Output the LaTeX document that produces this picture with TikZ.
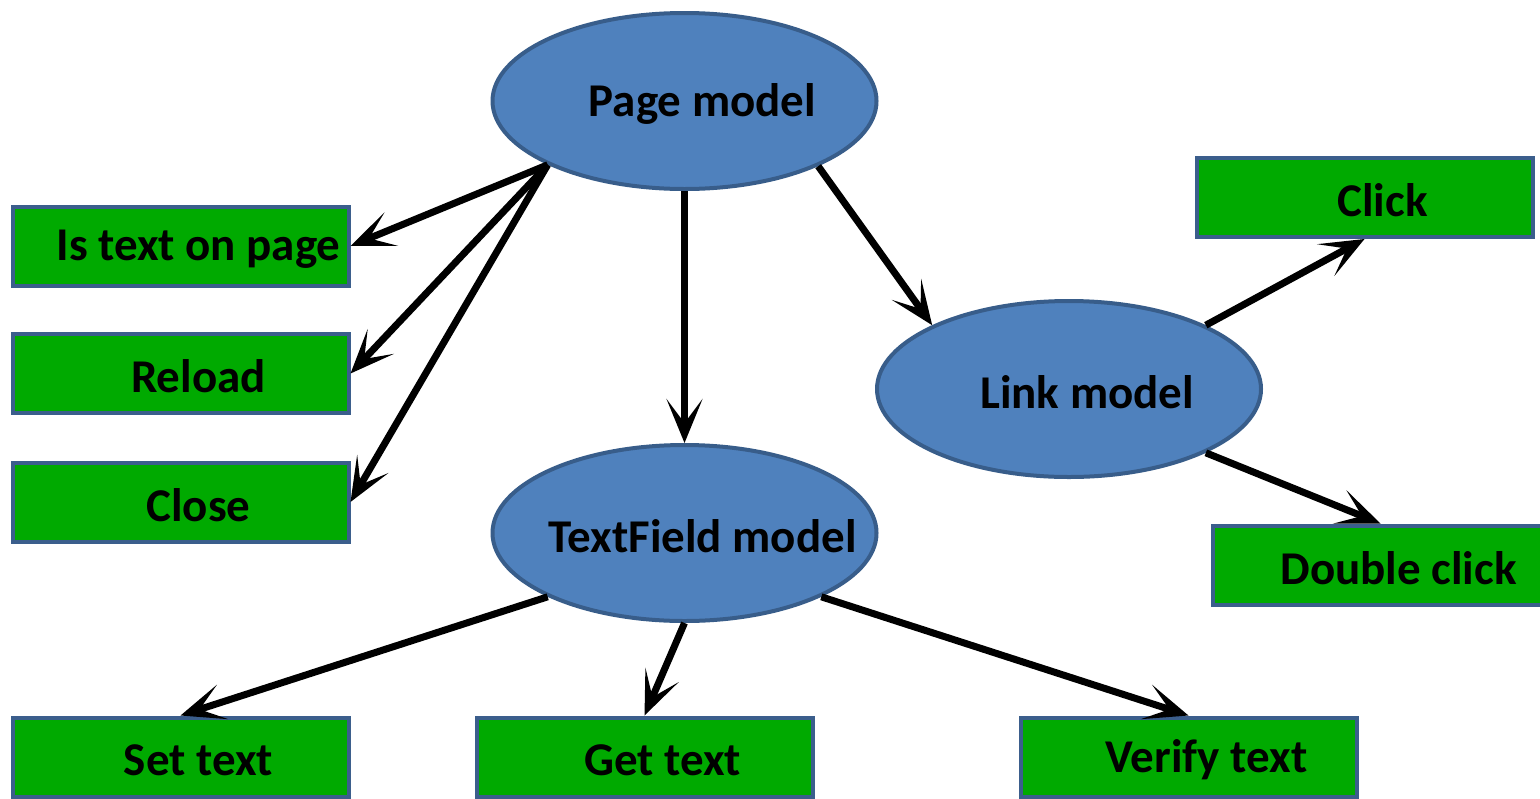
\documentclass[tikz,border=0pt]{standalone}
\usepackage{fontspec}
\setmainfont{Carlito}
\usetikzlibrary{shapes.geometric,arrows.meta}
\definecolor{ellfill}{HTML}{4F81BD}
\definecolor{ellline}{HTML}{385D8A}
\definecolor{boxfill}{HTML}{00AA00}
\definecolor{boxline}{HTML}{3B5E8C}
\tikzset{
  model/.style={ellipse, fill=ellfill, draw=ellline, line width=2pt,
    minimum width=192pt, minimum height=88pt, inner sep=0pt},
  action/.style={rectangle, fill=boxfill, draw=boxline, line width=2pt,
    minimum width=168pt, minimum height=39.5pt, inner sep=0pt},
  txt/.style={font=\fontsize{23.5pt}{26pt}\selectfont\bfseries, xshift=9pt, yshift=-1.5pt},
  conn/.style={line width=3.5pt, -{Stealth[length=22pt, width=18pt, inset=12pt]}}
}
\begin{document}
\begin{tikzpicture}[x=0.5pt, y=-0.5pt]
\useasboundingbox (0,0) rectangle (1540,798);
\node[model, label={[txt]center:Page model}] (page) at (684.5,101) {};
\node[model, label={[txt]center:Link model}] (link) at (1069,389) {};
\node[model, label={[txt]center:TextField model}] (tf) at (684.5,533) {};
\node[action, label={[txt]center:Is text on page}] (istext) at (180.5,246) {};
\node[action, label={[txt]center:Reload}] (reload) at (180.5,373.5) {};
\node[action, label={[txt]center:Close}] (close) at (180.5,502) {};
\node[action, label={[txt]center:Click}] (click) at (1364.5,197.5) {};
\node[action, label={[txt]center:Double click}] (double) at (1380.5,565) {};
\node[action, label={[txt]center:Set text}] (set) at (180.5,757) {};
\node[action, label={[txt]center:Get text}] (get) at (644.5,757) {};
\node[action, label={[txt]center:Verify text}] (verify) at (1188.5,757) {};
\draw[conn] (page.205.5) -- (istext.east);
\draw[conn] (page.205.5) -- (reload.east);
\draw[conn] (page.205.5) -- (close.east);
\draw[conn] (page.south) -- (tf.north);
\draw[conn] (page.334) -- (link.155);
\draw[conn] (link.25) -- (click.south);
\draw[conn] (link.335) -- (double.north);
\draw[conn] (tf.205) -- (set.north);
\draw[conn] (tf.south) -- (get.north);
\draw[conn] (tf.335) -- (verify.north);
\end{tikzpicture}
\end{document}
